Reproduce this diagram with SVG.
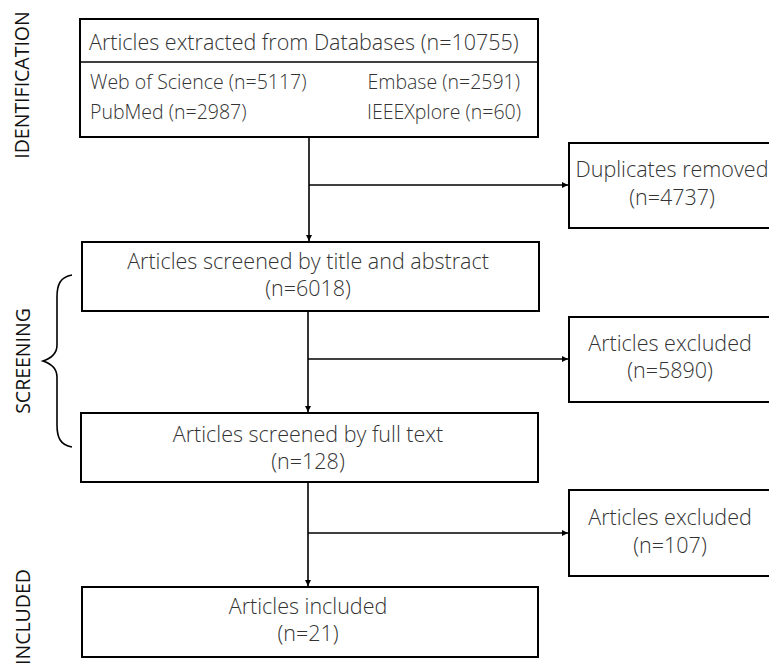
<svg xmlns="http://www.w3.org/2000/svg" width="769" height="666" viewBox="0 0 769 666">
<defs>
<marker id="ah" viewBox="0 0 10 10" refX="10" refY="5" markerWidth="6" markerHeight="6" markerUnits="userSpaceOnUse" orient="auto">
<path d="M0,0 L10,5 L0,10 z" fill="#000"/>
</marker>
<style>
.box{fill:#fff;stroke:#000;stroke-width:2}
.t{font-family:"Open Sans","Noto Sans",sans-serif;font-weight:300;font-size:21.5px;fill:#333}
.s{font-size:19.5px}
.c{text-anchor:middle}
.side{font-family:"Open Sans","Noto Sans",sans-serif;font-size:19.5px;fill:#111;text-anchor:middle}
.ln{fill:none;stroke:#000;stroke-width:1.6}
</style>
</defs>
<rect width="769" height="666" fill="#fff"/>
<g id="labels">
<text class="side" transform="translate(29,85) rotate(-90)">IDENTIFICATION</text>
<text class="side" transform="translate(30,361) rotate(-90)">SCREENING</text>
<text class="side" transform="translate(30,617) rotate(-90)">INCLUDED</text>
<path class="ln" d="M72,275 C60,277 57,285 57,297 L57,345 C57,352 52,358 43,361 C52,364 57,370 57,377 L57,425 C57,437 60,445 72,447"/>
</g>
<g id="connectors">
<path class="ln" d="M309,137 L309,241" marker-end="url(#ah)"/>
<path class="ln" d="M309,185 L568,185" marker-end="url(#ah)"/>
<path class="ln" d="M308,311 L308,412" marker-end="url(#ah)"/>
<path class="ln" d="M308,359 L568,359" marker-end="url(#ah)"/>
<path class="ln" d="M308,482 L308,586" marker-end="url(#ah)"/>
<path class="ln" d="M308,533 L568,533" marker-end="url(#ah)"/>
</g>
<g id="n1">
<rect class="box" x="80" y="19" width="458" height="118"/>
<line x1="80" y1="62" x2="538" y2="62" stroke="#000" stroke-width="1.6"/>
<text class="t" x="89" y="50">Articles extracted from Databases (n=10755)</text>
<text class="t s" x="90" y="89">Web of Science (n=5117)</text>
<text class="t s" x="90" y="119">PubMed (n=2987)</text>
<text class="t s" x="520" y="89" text-anchor="end">Embase (n=2591)</text>
<text class="t s" x="521" y="119" text-anchor="end">IEEEXplore (n=60)</text>
</g>
<g id="n2">
<rect class="box" x="569" y="143" width="220" height="85"/>
<text class="t c" x="672" y="177">Duplicates removed</text>
<text class="t c" x="672" y="205">(n=4737)</text>
</g>
<g id="n3">
<rect class="box" x="82" y="242" width="457" height="69"/>
<text class="t c" x="308" y="269">Articles screened by title and abstract</text>
<text class="t c" x="308" y="296">(n=6018)</text>
</g>
<g id="n4">
<rect class="box" x="569" y="317" width="220" height="85"/>
<text class="t c" x="670" y="351">Articles excluded</text>
<text class="t c" x="670" y="378">(n=5890)</text>
</g>
<g id="n5">
<rect class="box" x="81" y="413" width="457" height="69"/>
<text class="t c" x="308" y="442">Articles screened by full text</text>
<text class="t c" x="308" y="469">(n=128)</text>
</g>
<g id="n6">
<rect class="box" x="569" y="490" width="220" height="86"/>
<text class="t c" x="670" y="525">Articles excluded</text>
<text class="t c" x="670" y="553">(n=107)</text>
</g>
<g id="n7">
<rect class="box" x="82" y="587" width="456" height="70"/>
<text class="t c" x="308" y="614">Articles included</text>
<text class="t c" x="308" y="641">(n=21)</text>
</g>
</svg>
